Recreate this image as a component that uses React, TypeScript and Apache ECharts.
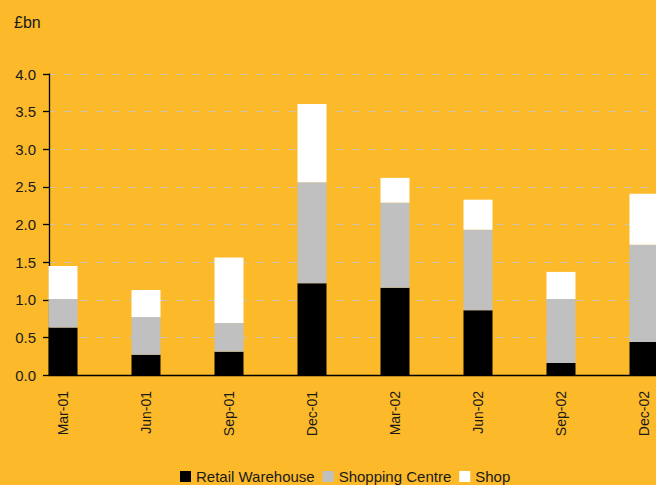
import React, { useEffect, useRef } from "react";
import * as echarts from "echarts";

const categories = ["Mar-01", "Jun-01", "Sep-01", "Dec-01", "Mar-02", "Jun-02", "Sep-02", "Dec-02"];
const retailWarehouse = [0.63, 0.27, 0.31, 1.22, 1.16, 0.86, 0.16, 0.44];
const shoppingCentre = [0.38, 0.5, 0.38, 1.34, 1.13, 1.07, 0.85, 1.29];
const shop = [0.44, 0.36, 0.87, 1.04, 0.33, 0.4, 0.36, 0.68];
const seriesNames = ["Retail Warehouse", "Shopping Centre", "Shop"];
const seriesColors = ["#000000", "#C0C0C0", "#FFFFFF"];
const unitLabel = "£bn";

const FONT = "Liberation Sans, Arial, sans-serif";
const TEXT = "#1a1a1a";

export default function App() {
  const ref = useRef<HTMLDivElement>(null);
  useEffect(() => {
    if (!ref.current) return;
    const chart = echarts.init(ref.current, undefined, { renderer: "svg" });
    const values = [retailWarehouse, shoppingCentre, shop];
    chart.setOption({
      animation: false,
      backgroundColor: "#FCB929",
      textStyle: { fontFamily: FONT },
      graphic: [
        {
          type: "text",
          left: 14,
          top: 14,
          style: { text: unitLabel, fontSize: 16, fill: TEXT, fontFamily: FONT },
        },
      ],
      legend: {
        data: seriesNames,
        left: 175,
        top: 464,
        itemWidth: 11,
        itemHeight: 11,
        itemGap: 8,
        icon: "rect",
        textStyle: { fontSize: 15, color: TEXT, fontFamily: FONT },
      },
      grid: [
        { left: 21.5, top: 74, width: 664, height: 301, outerBoundsMode: "none" },
        { left: 49, top: 74, width: 640, height: 301, outerBoundsMode: "none" },
      ],
      xAxis: [
        {
          gridIndex: 0,
          type: "category",
          data: categories,
          axisLine: { show: false },
          axisTick: { show: false },
          axisLabel: { rotate: 90, margin: 16, fontSize: 14, color: TEXT, fontFamily: FONT },
        },
        {
          gridIndex: 1,
          type: "value",
          min: 0,
          max: 1,
          axisLine: { show: true, lineStyle: { color: "#000", width: 1.3 } },
          axisTick: { show: false },
          axisLabel: { show: false },
          splitLine: { show: false },
        },
      ],
      yAxis: [
        { gridIndex: 0, type: "value", min: 0, max: 4, show: false },
        {
          gridIndex: 1,
          type: "value",
          min: 0,
          max: 4,
          interval: 0.5,
          axisLine: { show: true, lineStyle: { color: "#000", width: 1.3 } },
          axisTick: { show: true, length: 6, lineStyle: { color: "#000", width: 1.3 } },
          axisLabel: {
            margin: 13,
            fontSize: 15,
            color: TEXT,
            fontFamily: FONT,
            formatter: (v: number) => v.toFixed(1),
          },
          splitLine: {
            show: true,
            lineStyle: { color: "#C4C4C4", type: [6, 10], width: 1 },
          },
        },
      ],
      series: seriesNames.map((name, i) => ({
        name,
        type: "bar",
        stack: "total",
        xAxisIndex: 0,
        yAxisIndex: 0,
        barWidth: 29,
        itemStyle: { color: seriesColors[i] },
        data: values[i],
      })),
    });
    return () => chart.dispose();
  }, []);
  return (
    <div
      ref={ref}
      style={{ position: "fixed", left: 0, top: 0, width: 656, height: 485 }}
    />
  );
}
